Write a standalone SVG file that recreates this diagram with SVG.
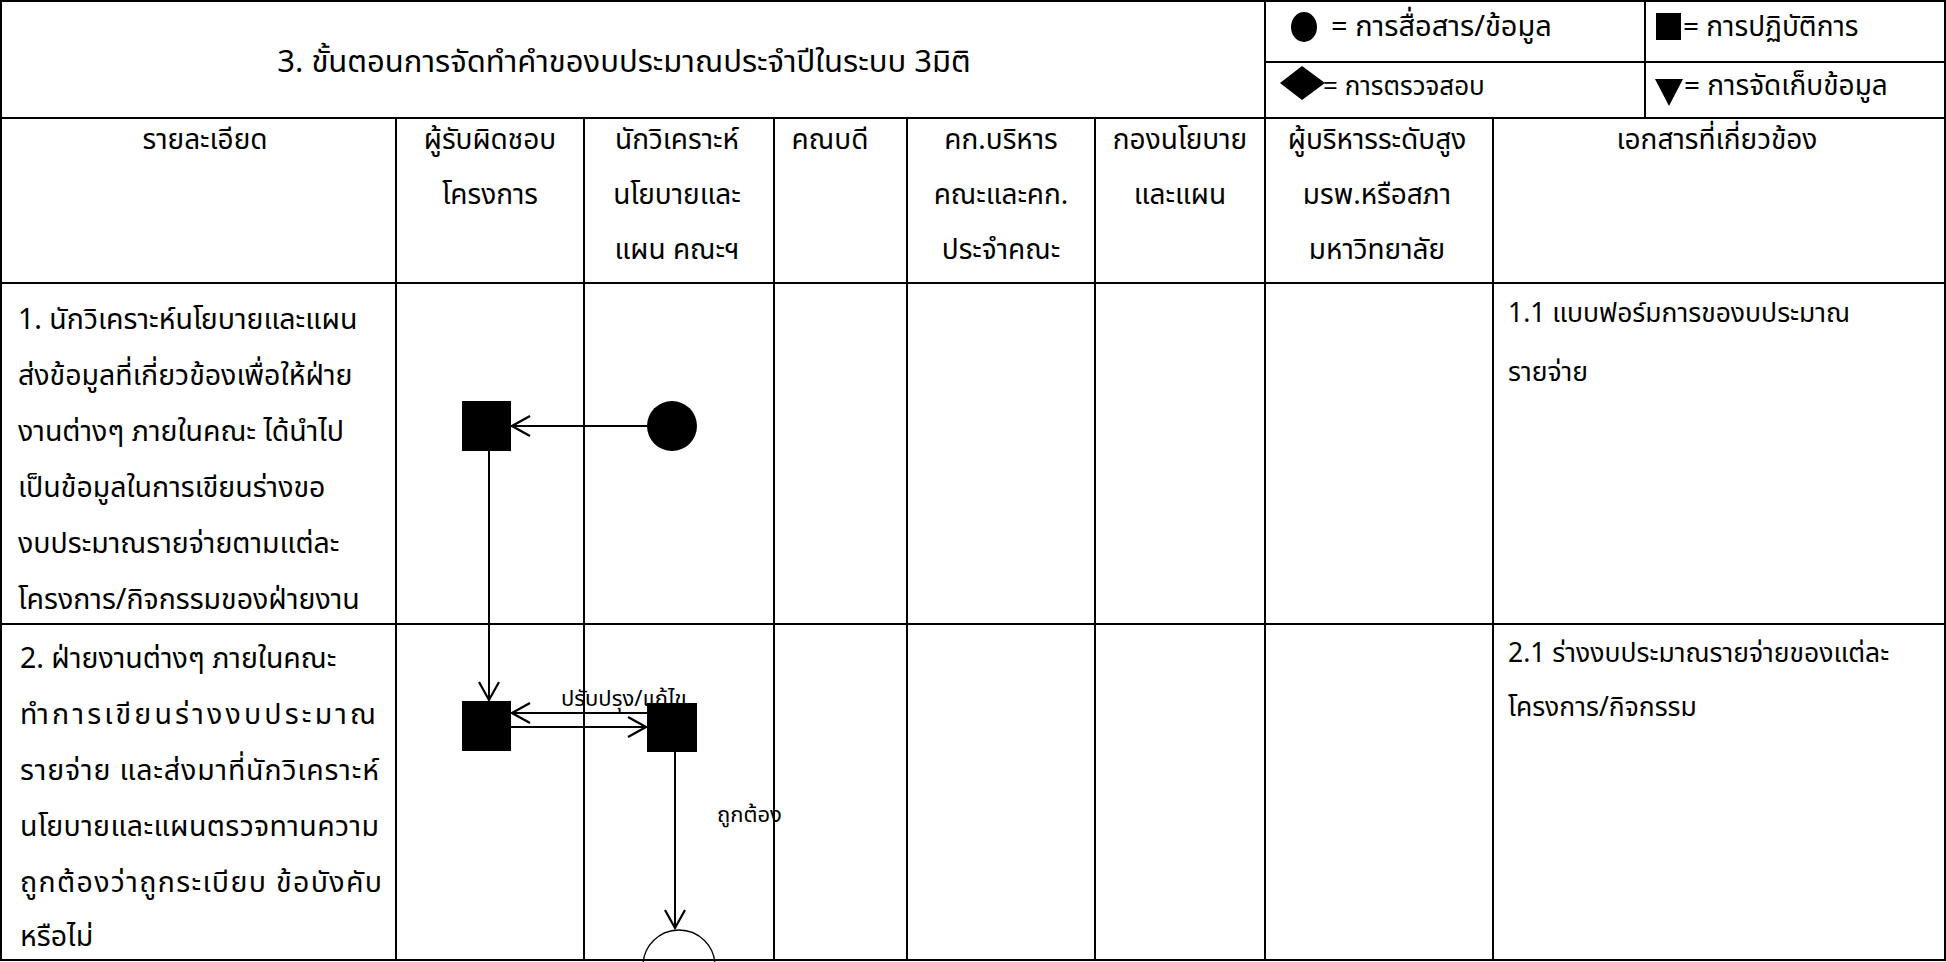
<svg xmlns="http://www.w3.org/2000/svg" width="1946" height="962" viewBox="0 0 1946 962">
<defs>
<style>
.t{font-family:"Noto Sans Thai","Noto Sans","Liberation Sans",sans-serif;font-size:28.5px;fill:#000}
.h{font-family:"Noto Sans Thai","Noto Sans","Liberation Sans",sans-serif;font-size:28px;fill:#000;text-anchor:middle}
.l{font-family:"Noto Sans Thai","Noto Sans","Liberation Sans",sans-serif;font-size:28px;fill:#000}
.d{font-family:"Noto Sans Thai","Noto Sans","Liberation Sans",sans-serif;font-size:26.5px;fill:#000}
.s{font-family:"Noto Sans Thai","Noto Sans","Liberation Sans",sans-serif;font-size:22px;fill:#000}
.g{stroke:#000;stroke-width:2;fill:none}
.k{stroke:#000;stroke-width:2;fill:none}
</style>
<marker id="ah" viewBox="0 0 22 22" refX="20" refY="11" markerWidth="22" markerHeight="22" markerUnits="userSpaceOnUse" orient="auto">
<path d="M2,1 L20,11 L2,21" stroke="#000" stroke-width="2.2" fill="none"/>
</marker>
</defs>
<rect width="1946" height="962" fill="#fff"/>
<g id="grid">
<rect x="1" y="1" width="1944" height="959" class="g"/>
<line x1="1" y1="118" x2="1945" y2="118" class="g"/>
<line x1="1" y1="283" x2="1945" y2="283" class="g"/>
<line x1="1" y1="624" x2="1945" y2="624" class="g"/>
<line x1="1265" y1="1" x2="1265" y2="960" class="g"/>
<line x1="1645" y1="1" x2="1645" y2="118" class="g"/>
<line x1="1265" y1="62" x2="1945" y2="62" class="g"/>
<line x1="396" y1="118" x2="396" y2="960" class="g"/>
<line x1="584" y1="118" x2="584" y2="960" class="g"/>
<line x1="774" y1="118" x2="774" y2="960" class="g"/>
<line x1="907" y1="118" x2="907" y2="960" class="g"/>
<line x1="1095" y1="118" x2="1095" y2="960" class="g"/>
<line x1="1493" y1="118" x2="1493" y2="960" class="g"/>
</g>
<g id="title">
<text class="h" x="624" y="72" style="font-size:31px">3. ขั้นตอนการจัดทำคำของบประมาณประจำปีในระบบ 3มิติ</text>
</g>
<g id="legend">
<ellipse cx="1304" cy="27" rx="13" ry="15" fill="#000"/>
<text class="l" x="1331" y="36" style="font-size:29px">= การสื่อสาร/ข้อมูล</text>
<rect x="1656" y="13" width="25" height="27" fill="#000"/>
<text class="l" x="1683" y="36">= การปฏิบัติการ</text>
<polygon points="1280,83 1302,66 1325,83 1302,100" fill="#000"/>
<text class="l" x="1323" y="95" style="font-size:26px">= การตรวจสอบ</text>
<polygon points="1655,79 1683,79 1669,106" fill="#000"/>
<text class="l" x="1684" y="95">= การจัดเก็บข้อมูล</text>
</g>
<g id="headers">
<text class="h" x="205" y="149">รายละเอียด</text>
<text class="h" x="490" y="149">ผู้รับผิดชอบ</text>
<text class="h" x="490" y="204">โครงการ</text>
<text class="h" x="677" y="149">นักวิเคราะห์</text>
<text class="h" x="677" y="204">นโยบายและ</text>
<text class="h" x="677" y="259">แผน คณะฯ</text>
<text class="h" x="830" y="149">คณบดี</text>
<text class="h" x="1001" y="149">คก.บริหาร</text>
<text class="h" x="1001" y="204">คณะและคก.</text>
<text class="h" x="1001" y="259">ประจำคณะ</text>
<text class="h" x="1180" y="149">กองนโยบาย</text>
<text class="h" x="1180" y="204">และแผน</text>
<text class="h" x="1377" y="149">ผู้บริหารระดับสูง</text>
<text class="h" x="1377" y="204">มรพ.หรือสภา</text>
<text class="h" x="1377" y="259">มหาวิทยาลัย</text>
<text class="h" x="1717" y="149">เอกสารที่เกี่ยวข้อง</text>
</g>
<g id="row1-text">
<text class="t" x="18" y="329">1. นักวิเคราะห์นโยบายและแผน</text>
<text class="t" x="18" y="385">ส่งข้อมูลที่เกี่ยวข้องเพื่อให้ฝ่าย</text>
<text class="t" x="18" y="441">งานต่างๆ ภายในคณะ ได้นำไป</text>
<text class="t" x="18" y="497">เป็นข้อมูลในการเขียนร่างขอ</text>
<text class="t" x="18" y="553">งบประมาณรายจ่ายตามแต่ละ</text>
<text class="t" x="18" y="609">โครงการ/กิจกรรมของฝ่ายงาน</text>
<text class="d" x="1508" y="322">1.1 แบบฟอร์มการของบประมาณ</text>
<text class="d" x="1508" y="381">รายจ่าย</text>
</g>
<g id="row2-text">
<text class="t" x="20" y="668">2. ฝ่ายงานต่างๆ ภายในคณะ</text>
<text class="t" x="20" y="724" textLength="356" lengthAdjust="spacing">ทำการเขียนร่างงบประมาณ</text>
<text class="t" x="20" y="780" textLength="359" lengthAdjust="spacing">รายจ่าย และส่งมาที่นักวิเคราะห์</text>
<text class="t" x="20" y="836" textLength="359" lengthAdjust="spacing">นโยบายและแผนตรวจทานความ</text>
<text class="t" x="20" y="892" textLength="362" lengthAdjust="spacing">ถูกต้องว่าถูกระเบียบ ข้อบังคับ</text>
<text class="t" x="20" y="946">หรือไม่</text>
<text class="d" x="1508" y="662">2.1 ร่างงบประมาณรายจ่ายของแต่ละ</text>
<text class="d" x="1508" y="716">โครงการ/กิจกรรม</text>
</g>
<g id="connectors">
<line x1="647" y1="426" x2="512" y2="426" class="k" marker-end="url(#ah)"/>
<line x1="489" y1="451" x2="489" y2="700" class="k" marker-end="url(#ah)"/>
<line x1="647" y1="713" x2="512" y2="713" class="k" marker-end="url(#ah)"/>
<line x1="511" y1="727" x2="646" y2="727" class="k" marker-end="url(#ah)"/>
<line x1="675" y1="752" x2="675" y2="928" class="k" marker-end="url(#ah)"/>
<text class="s" x="561" y="706">ปรับปรุง/แก้ไข</text>
<text class="s" x="717" y="822">ถูกต้อง</text>
</g>
<g id="n-circle1"><circle cx="672" cy="426" r="25" fill="#000"/></g>
<g id="n-sq1"><rect x="462" y="401" width="49" height="50" fill="#000"/></g>
<g id="n-sq2"><rect x="462" y="701" width="49" height="50" fill="#000"/></g>
<g id="n-sq3"><rect x="647" y="703" width="50" height="49" fill="#000"/></g>
<g id="n-circle2"><circle cx="679" cy="966" r="36" fill="#fff" stroke="#000" stroke-width="1.3"/></g>
<line x1="1" y1="960" x2="1945" y2="960" class="g"/>
</svg>
